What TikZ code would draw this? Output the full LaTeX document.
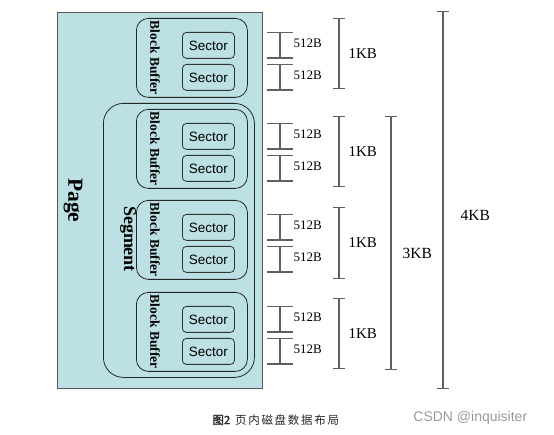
\documentclass[tikz,border=0pt]{standalone}
\usepackage{fontspec}
\setmainfont{Liberation Serif}
\newfontfamily\arialfont{Liberation Sans}
\newfontfamily\cjk[LetterSpace=15]{Noto Sans CJK SC}
\newfontfamily\cjkbold[FakeBold=1.5]{Noto Sans CJK SC}
\usetikzlibrary{arrows.meta,positioning,calc}
\definecolor{pagecol}{RGB}{188,224,227}
\definecolor{barcol}{RGB}{95,95,95}

\begin{document}
\begin{tikzpicture}[
  x=1pt, y=-1pt,
  line width=0.8pt,
  % --- Boxes ---
  pagebox/.style={draw=black!65, fill=pagecol, anchor=north west, inner sep=0pt,
    minimum width=205pt, minimum height=376pt},
  segbox/.style={draw=black!85, rounded corners=20pt, anchor=north west, inner sep=0pt,
    minimum width=151pt, minimum height=274pt},
  blockbox/.style={draw=black!85, rounded corners=12pt, anchor=north west, inner sep=0pt,
    minimum width=111pt, minimum height=79pt},
  sectorbox/.style={draw=black!80, rounded corners=4pt, anchor=north west, inner sep=0pt,
    minimum width=52pt, minimum height=26pt, font=\arialfont\fontsize{13.5}{14}\selectfont},
  sidelabel/.style={rotate=-90, inner sep=0pt, font=\bfseries\fontsize{#1}{#1}\selectfont},
  % --- Size bars ---
  halfbar/.style={draw=barcol, line width=1.3pt, {Bar[width=26pt]}-{Bar[width=26pt]}},
  sizebar/.style={draw=barcol, line width=1.3pt, {Bar[width=12pt]}-{Bar[width=12pt]}},
  sizelabel/.style={anchor=west, inner sep=0pt, font=\fontsize{#1}{#1}\selectfont},
]
\useasboundingbox (0,0) rectangle (554,435);

% --- Page and segment ---
\node[pagebox] (page) at (57,12) {};
\node[sidelabel=21.5] (pagetxt) at ($(page.west)+(16,0)$) {Page};
\node[segbox] (seg) at (103,103) {};
\node[sidelabel=18] (segtxt) at (128,239) {Segment};

% --- Block buffers with two sectors each ---
\foreach \i/\y in {1/18, 2/109, 3/200, 4/292} {
  \node[blockbox] (bb\i) at (136,\y) {};
  \node[sidelabel=13.5] (bbtxt\i) at ($(bb\i.west)+(19,0)$) {Block Buffer};
  \node[sectorbox] (s\i a) at (182,\y+14) {Sector};
  \node[sectorbox] (s\i b) at (182,\y+46) {Sector};
}

% --- 512B bars, one per sector ---
\coordinate (xh) at (280,0);
\foreach \i in {1,...,4} {
  \foreach \s in {a,b} {
    \draw[halfbar] (s\i\s.north -| xh) -- (s\i\s.south -| xh)
      node[midway, sizelabel=13, xshift=13pt, yshift=2.5pt] (lab\i\s) {512B};
  }
}

% --- 1KB bars ---
\foreach \i/\ya/\yb in {1/18/89, 2/116/187, 3/207/279, 4/298/369} {
  \draw[sizebar] (339,\ya) -- (339,\yb)
    node[midway, sizelabel=15, xshift=9pt] (kb\i) {1KB};
}

% --- 3KB and 4KB bars ---
\draw[sizebar] (391,116) -- (391,370) node[pos=0.54, sizelabel=15.5, xshift=11pt] (kb3) {3KB};
\draw[sizebar] (443,11) -- (443,389) node[pos=0.54, sizelabel=15.5, xshift=17pt] (kb4) {4KB};

% --- Caption and watermark ---
\node[anchor=west, inner sep=0pt, text=black!85, font=\cjkbold\fontsize{11.5}{12}\selectfont]
  (capnum) at (212,420) {图2};
\node[right=4pt of capnum, inner sep=0pt, text=black!85, font=\cjk\fontsize{11.5}{12}\selectfont]
  (captext) {页内磁盘数据布局};
\node[anchor=west, inner sep=0pt, text=black!40, font=\arialfont\fontsize{14}{15}\selectfont]
  (mark) at (413,418) {CSDN @inquisiter};

\end{tikzpicture}
\end{document}
